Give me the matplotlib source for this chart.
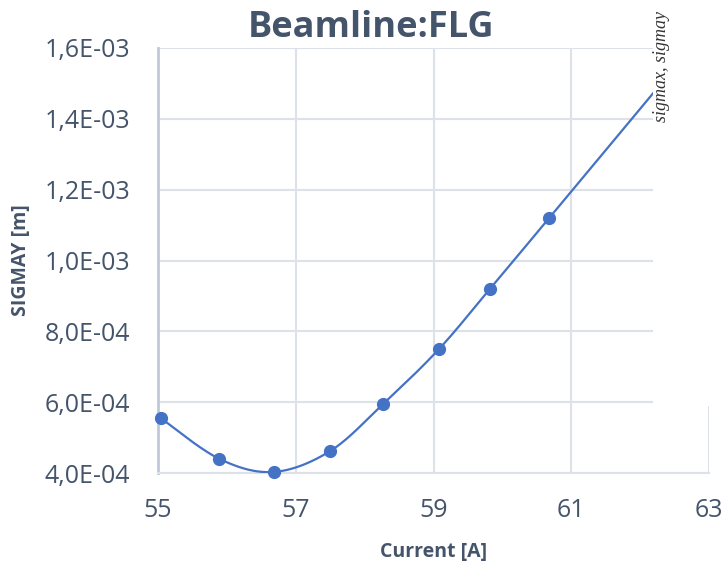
import numpy as np
import matplotlib
matplotlib.use("Agg")
import matplotlib.pyplot as plt
from matplotlib.patches import Rectangle
from matplotlib.ticker import FuncFormatter, MultipleLocator

# Measured beam size vs. magnet current
current = [55.04, 55.89, 56.68, 57.50, 58.27, 59.08, 59.82, 60.68, 62.50]
sigmay = [5.55e-4, 4.40e-4, 4.03e-4, 4.62e-4, 5.95e-4, 7.50e-4, 9.20e-4, 1.12e-3, 1.545e-3]

x_ticks = [55, 57, 59, 61, 63]
title = "Beamline:FLG"
x_label = "Current [A]"
y_label = "SIGMAY [m]"
note = "sigmax, sigmay"

TEXT = "#44546A"
BLUE = "#4472C4"
GRID = "#DDE1E8"

plt.rcParams['font.family'] = ['Open Sans', 'DejaVu Sans']

W, H = 725, 564
fig = plt.figure(figsize=(W / 100, H / 100), dpi=100)
fig.patch.set_facecolor("white")
ax = fig.add_axes([158 / W, 1 - 473 / H, (709 - 158) / W, (473 - 48) / H])

xlim = (55, 63)
ylim = (4e-4, 1.6e-3)


def smooth_curve(xs, ys, n=40):
    """Bezier smoothing through every point (Catmull-Rom tangents),
    computed in axis-normalised space."""
    xs = np.asarray(xs, float)
    ys = np.asarray(ys, float)
    sx = (xs - xlim[0]) / (xlim[1] - xlim[0])
    sy = (ys - ylim[0]) / (ylim[1] - ylim[0]) * (425 / 551)
    P = np.column_stack([sx, sy])
    out = []
    for i in range(len(P) - 1):
        p0 = P[i - 1] if i > 0 else P[i]
        p1 = P[i]
        p2 = P[i + 1]
        p3 = P[i + 2] if i + 2 < len(P) else P[i + 1]
        c1 = p1 + (p2 - p0) / 6
        c2 = p2 - (p3 - p1) / 6
        t = np.linspace(0, 1, n)[:, None]
        seg = ((1 - t) ** 3) * p1 + 3 * ((1 - t) ** 2) * t * c1 + 3 * (1 - t) * t ** 2 * c2 + t ** 3 * p2
        out.append(seg if i == 0 else seg[1:])
    C = np.vstack(out)
    cx = C[:, 0] * (xlim[1] - xlim[0]) + xlim[0]
    cy = C[:, 1] / (425 / 551) * (ylim[1] - ylim[0]) + ylim[0]
    return cx, cy


cx, cy = smooth_curve(current, sigmay)
ax.plot(cx, cy, color=BLUE, lw=1.6, zorder=3, solid_capstyle="round")
ax.plot(current, sigmay, "o", color=BLUE, ms=8.5, zorder=4, clip_on=False)

ax.set_xlim(*xlim)
ax.set_ylim(*ylim)
ax.set_xticks(x_ticks)
ax.yaxis.set_major_locator(MultipleLocator(2e-4))
ax.yaxis.set_major_formatter(FuncFormatter(lambda v, p: f"{v:.1E}".replace(".", ",")))

ax.grid(True, color=GRID, lw=1.5, zorder=0)
ax.set_axisbelow(True)
for s in ("top", "right"):
    ax.spines[s].set_visible(False)
ax.spines["left"].set_color("#BFC9DA")
ax.spines["left"].set_linewidth(2)
ax.spines["bottom"].set_color(GRID)
ax.spines["bottom"].set_linewidth(1.5)

ax.tick_params(axis="both", length=0, labelsize=18, labelcolor=TEXT)
ax.tick_params(axis="y", pad=20)
ax.tick_params(axis="x", pad=18)

ax.set_xlabel(x_label, fontsize=14, fontweight="bold", color=TEXT, labelpad=14)
ax.set_ylabel(y_label, fontsize=14, fontweight="bold", color=TEXT, labelpad=10)

fig.text(371 / W, 1 - 28 / H, title, ha="center", va="center",
         fontsize=26, fontweight="bold", color=TEXT)

# white label box at the upper right with the rotated series note
fig.patches.append(Rectangle((653 / W, 1 - 406 / H), 1, 1, transform=fig.transFigure,
                             facecolor="white", edgecolor="none", zorder=5))
fig.text(662 / W, 1 - 66 / H, note, rotation=90, ha="center", va="center",
         fontsize=13, style="italic", family=["Liberation Serif", "DejaVu Serif"],
         color="#333333", zorder=6)

fig.savefig("out.png", dpi=100, facecolor="white")
